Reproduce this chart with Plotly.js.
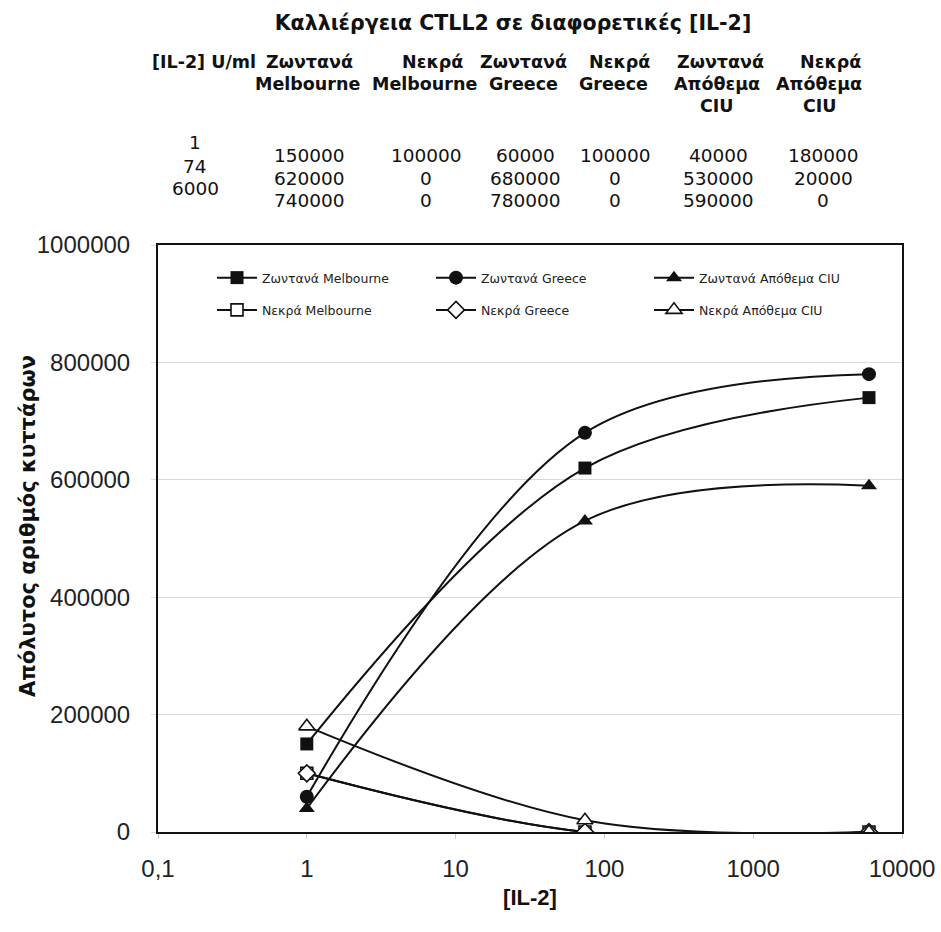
<!DOCTYPE html>
<html>
<head>
<meta charset="utf-8">
<script src="https://cdn.plot.ly/plotly-3.0.1.min.js"></script>
<style>html,body{margin:0;padding:0;background:#fff}#chart{width:941px;height:932px}</style>
</head>
<body>
<div id="chart"></div>
<script>
// ---- data ----
const il2 = [1, 74, 6000];
const seriesNames = ['Ζωντανά Melbourne', 'Νεκρά Melbourne', 'Ζωντανά Greece', 'Νεκρά Greece', 'Ζωντανά Απόθεμα CIU', 'Νεκρά Απόθεμα CIU'];
const zMel = [150000, 620000, 740000];
const nMel = [100000, 0, 0];
const zGre = [60000, 680000, 780000];
const nGre = [100000, 0, 0];
const zCiu = [40000, 530000, 590000];
const nCiu = [180000, 20000, 0];
const xTickVals = [0.1, 1, 10, 100, 1000, 10000];
const xTickText = ['0,1', '1', '10', '100', '1000', '10000'];
const firstHeader = '[IL-2] U/ml';
const titleText = 'Καλλιέργεια CTLL2 σε διαφορετικές [IL-2]';
const xTitle = '[IL-2]';
const yTitle = 'Απόλυτος αριθμός κυττάρων';

// ---- layout helpers ----
const W = 941, H = 932, ML = 158, MR = 39, MT = 245, MB = 100;
const PW = W - ML - MR, PH = H - MT - MB;
const FONT = 'Liberation Sans, Arial, sans-serif';
const WIDE = 'DejaVu Sans, sans-serif';
const px2x = p => (p - ML) / PW;
const px2y = p => (H - MB - p) / PH;

const seriesData = [zMel, nMel, zGre, nGre, zCiu, nCiu];
const symbols = ['square', 'square', 'circle', 'diamond', 'triangle-up', 'triangle-up'];
const filled = [true, false, true, false, true, false];
const sizes = [13, 12, 14, 13, 14, 14];
const legendIds = ['legend', 'legend', 'legend2', 'legend2', 'legend3', 'legend3'];

const traces = seriesData.map((ys, i) => ({
  type: 'scatter', mode: 'lines+markers',
  x: il2, y: ys, name: seriesNames[i],
  legend: legendIds[i], legendgroup: 'g' + i,
  line: {color: '#111', width: 2, shape: 'spline', smoothing: 1},
  marker: {symbol: symbols[i], size: sizes[i],
           color: filled[i] ? '#111' : '#fff',
           line: {color: '#111', width: filled[i] ? 0 : 1.6}}
}));

// ---- table annotations ----
const annotations = [];
const hdrFont = {family: WIDE, size: 17.5, color: '#111', weight: 'bold'};
const valFont = {family: WIDE, size: 18.5, color: '#111'};
function ann(text, px, py, font) {
  annotations.push({xref: 'paper', yref: 'paper', x: px2x(px), y: px2y(py), text: text,
    showarrow: false, xanchor: 'center', yanchor: 'middle', font: font});
}
const hdrRowsY = [62, 84, 106];
const hdrX = [
  [309, 307],
  [432, 424],
  [523, 523],
  [619, 613],
  [720, 717, 717],
  [830, 819, 820]
];
ann('<b>' + firstHeader + '</b>', 204, hdrRowsY[0], hdrFont);
seriesNames.forEach((nm, c) => {
  nm.split(' ').forEach((w, r) => ann('<b>' + w + '</b>', hdrX[c][r], hdrRowsY[r], hdrFont));
});
const il2RowsY = [142, 166, 189];
il2.forEach((v, r) => ann(String(v), 195, il2RowsY[r], valFont));
const valRowsY = [155, 178, 201];
const valColX = [309, 426, 525, 615, 718, 823];
seriesData.forEach((ys, c) => ys.forEach((v, r) => ann(String(v), valColX[c], valRowsY[r], valFont)));

// y-axis title as rotated annotation
annotations.push({xref: 'paper', yref: 'paper', x: px2x(28), y: px2y(526), text: '<b>' + yTitle + '</b>',
  textangle: -90, showarrow: false, xanchor: 'center', yanchor: 'middle',
  font: {family: WIDE, size: 21, color: '#111'}});

const legendCommon = {
  orientation: 'v', bgcolor: 'rgba(0,0,0,0)', borderwidth: 0,
  font: {family: WIDE, size: 12.5, color: '#222'},
  xanchor: 'left', yanchor: 'top', y: px2y(263), tracegroupgap: 13, itemwidth: 40
};

const layout = {
  width: W, height: H,
  margin: {l: ML, r: MR, t: MT, b: MB, pad: 0},
  paper_bgcolor: '#fff', plot_bgcolor: '#fff',
  title: {text: '<b>' + titleText + '</b>', font: {family: WIDE, size: 20.5, color: '#111'},
          x: 513 / W, xanchor: 'center', xref: 'container', y: 1 - 23 / H, yanchor: 'middle', yref: 'container'},
  showlegend: true,
  legend: Object.assign({}, legendCommon, {x: px2x(212)}),
  legend2: Object.assign({}, legendCommon, {x: px2x(431)}),
  legend3: Object.assign({}, legendCommon, {x: px2x(649)}),
  xaxis: {
    type: 'log', range: [-1, 4],
    tickvals: xTickVals, ticktext: xTickText,
    tickfont: {family: FONT, size: 24, color: '#222'},
    ticks: 'outside', ticklen: 5, tickcolor: '#ccc', ticklabelstandoff: 9,
    showgrid: false, zeroline: false,
    showline: true, linecolor: '#111', linewidth: 2, mirror: true,
    title: {text: '<b>' + xTitle + '</b>', font: {family: FONT, size: 22, color: '#111'}, standoff: 9}
  },
  yaxis: {
    range: [0, 1000000], dtick: 200000, tick0: 0, tickformat: 'd',
    tickfont: {family: FONT, size: 24, color: '#222'},
    ticks: 'outside', ticklen: 5, tickcolor: '#ddd', ticklabelstandoff: 16,
    showgrid: true, gridcolor: '#d9d9d9', gridwidth: 1, zeroline: false,
    showline: true, linecolor: '#111', linewidth: 2, mirror: true
  },
  annotations: annotations
};

Plotly.newPlot('chart', traces, layout, {displayModeBar: false, staticPlot: true});
</script>
</body>
</html>
